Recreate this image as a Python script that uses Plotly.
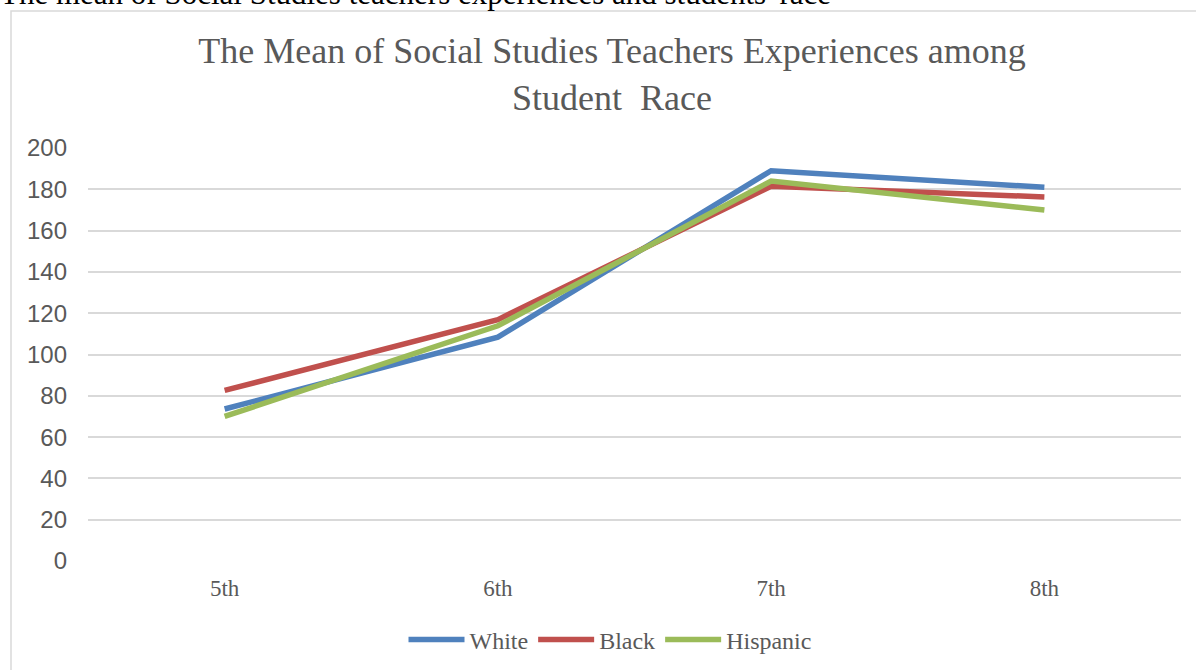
import plotly.graph_objects as go

grades = ["5th", "6th", "7th", "8th"]
white = [73.6, 108.4, 189.0, 181.0]
black = [82.6, 116.9, 181.5, 176.3]
hispanic = [70.0, 113.9, 184.0, 170.0]
y_ticks = [0, 20, 40, 60, 80, 100, 120, 140, 160, 180, 200]

series = [("White", white, "#4F81BD"), ("Black", black, "#C0504D"), ("Hispanic", hispanic, "#9BBB59")]

fig = go.Figure()
for name, vals, col in series:
    fig.add_trace(go.Scatter(x=grades, y=vals, mode="lines", name=name,
                             line=dict(color=col, width=5.5)))

W, H = 1196, 670
# target plot-area screen coordinates
L_s, R_s, T_s, B_s = 88, 1181, 148, 561
L, T = L_s, T_s
R = W - R_s
B = H - B_s
pw = W - L - R
ph = H - T - B

def sx(px):
    return (px - L) / pw

def sy(py):
    return (H - B - py) / ph

fig.update_layout(
    width=W, height=H, autosize=False,
    margin=dict(l=L, r=R, t=T, b=B, autoexpand=False),
    paper_bgcolor="white", plot_bgcolor="white",
    title=dict(text="The Mean of Social Studies Teachers Experiences among<br>Student\u00a0 Race",
               x=612 / W, xref="container", xanchor="center",
               y=1 - 63 / H, yref="container", yanchor="top",
               font=dict(family="Liberation Serif, Times New Roman, serif", size=36, color="#595959")),
    xaxis=dict(range=[-0.5, 3.5], showgrid=False, showline=False, zeroline=False, ticks="",
               tickfont=dict(family="Liberation Serif, serif", size=23, color="#595959"),
               ticklabelstandoff=11),
    yaxis=dict(range=[0, 200], tickvals=y_ticks, showgrid=True, gridcolor="#D9D9D9", gridwidth=1.5,
               zeroline=False, showline=False, ticks="",
               tickfont=dict(family="Liberation Sans, Arial, sans-serif", size=24, color="#595959"),
               ticklabelstandoff=20),
    showlegend=True,
    legend=dict(orientation="h", x=610 / W, xref="container", xanchor="center",
                y=1 - 640 / H, yref="container", yanchor="middle",
                font=dict(family="Liberation Serif, serif", size=24, color="#595959"),
                itemwidth=56, tracegroupgap=0, bgcolor="rgba(0,0,0,0)"),
)

# chart frame
fig.add_shape(type="rect", xref="paper", yref="paper",
              x0=sx(11), x1=sx(1205),
              y0=sy(680), y1=sy(11),
              line=dict(color="#D9D9D9", width=1.5), fillcolor="rgba(0,0,0,0)", layer="below")

# document caption above the chart (cut off at top)
fig.add_annotation(text="The mean of Social Studies teachers experiences and students' race",
                   xref="paper", yref="paper", x=sx(-2), xanchor="left",
                   y=sy(13), yanchor="bottom", showarrow=False,
                   font=dict(family="Liberation Serif, Times New Roman, serif", size=31, color="#000000"))

fig.write_html("out.html", config={"displayModeBar": False},
               post_script="document.body.style.margin='0';")
